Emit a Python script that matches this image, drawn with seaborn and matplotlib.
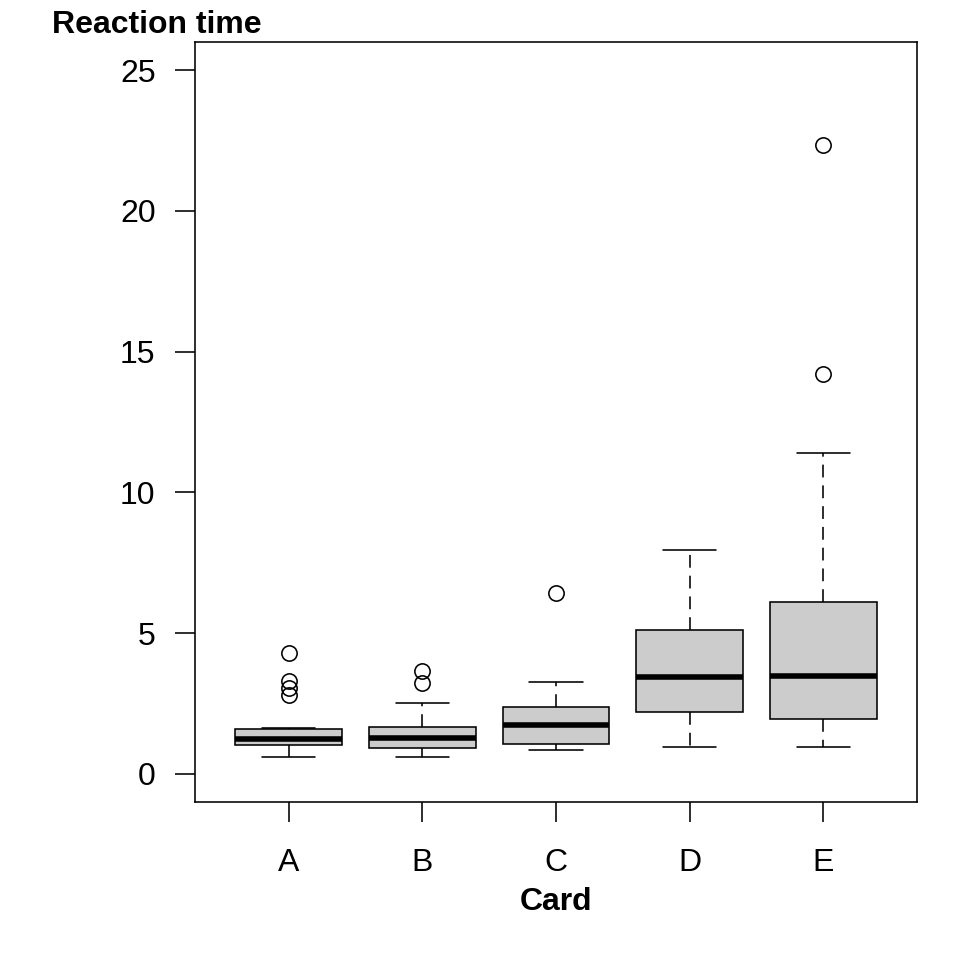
import matplotlib
matplotlib.use("Agg")
import matplotlib.pyplot as plt
import seaborn as sns
import pandas as pd

# Summary values
cards = ["A", "B", "C", "D", "E"]
whisker_low = [0.59, 0.59, 0.85, 0.95, 0.97]
q1 = [1.01, 0.91, 1.05, 2.19, 1.96]
median = [1.23, 1.29, 1.74, 3.43, 3.46]
q3 = [1.59, 1.66, 2.36, 5.11, 6.11]
whisker_high = [1.62, 2.53, 3.26, 7.94, 11.40]
outliers = [[2.80, 3.04, 3.30, 4.31], [3.22, 3.67], [6.42], [], [14.20, 22.34]]
y_ticks = [0, 5, 10, 15, 20, 25]

# Rebuild a sample per card whose box statistics equal the values above
rows = []
for i, c in enumerate(cards):
    vals = [whisker_low[i]] + [q1[i]] * 20 + [median[i]] * 20 + [q3[i]] * 20 + [whisker_high[i]] + outliers[i]
    rows += [(c, v) for v in vals]
df = pd.DataFrame(rows, columns=["Card", "Reaction time"])

sns.set_style("white")
plt.rcParams["font.family"] = ["Liberation Sans", "DejaVu Sans"]
plt.rcParams["text.color"] = "black"

fig = plt.figure(figsize=(9.6, 9.6), dpi=100)
ax = fig.add_axes([195 / 960, 1 - 802 / 960, (917 - 195) / 960, (802 - 42) / 960])

lw = 1.15
sns.boxplot(
    data=df, x="Card", y="Reaction time", order=cards, ax=ax,
    color="#CCCCCC", saturation=1, width=0.8, linecolor="black", linewidth=lw,
    fliersize=11, whis=1.5,
    flierprops=dict(marker="o", markerfacecolor="none", markeredgecolor="black", markeredgewidth=lw),
    medianprops=dict(linewidth=4, color="black", solid_capstyle="butt"),
    whiskerprops=dict(linestyle=(0, (8, 5)), color="black", linewidth=lw),
    capprops=dict(color="black", linewidth=lw),
    boxprops=dict(edgecolor="black", linewidth=lw),
)

ax.set_xlim(-0.7, 4.7)
ax.set_ylim(-1, 26)
ax.set_yticks(y_ticks)
ax.set_yticklabels([str(t) for t in y_ticks])
ax.set_xlabel("")
ax.set_ylabel("")
for s in ax.spines.values():
    s.set_visible(True)
    s.set_color("black")
    s.set_linewidth(lw)
ax.tick_params(axis="both", direction="out", length=14.4, width=lw, color="black",
               labelsize=23, labelcolor="black", left=True, bottom=True)
ax.tick_params(axis="y", pad=14)
ax.tick_params(axis="x", pad=19)

fig.text(556 / 960, 50 / 960, "Card", ha="center", va="baseline", fontsize=23,
         fontweight="bold", color="black")
fig.text(52 / 960, 1 - 33 / 960, "Reaction time", ha="left", va="baseline", fontsize=23,
         fontweight="bold", color="black")

fig.savefig("out.png", dpi=100, facecolor="white")
